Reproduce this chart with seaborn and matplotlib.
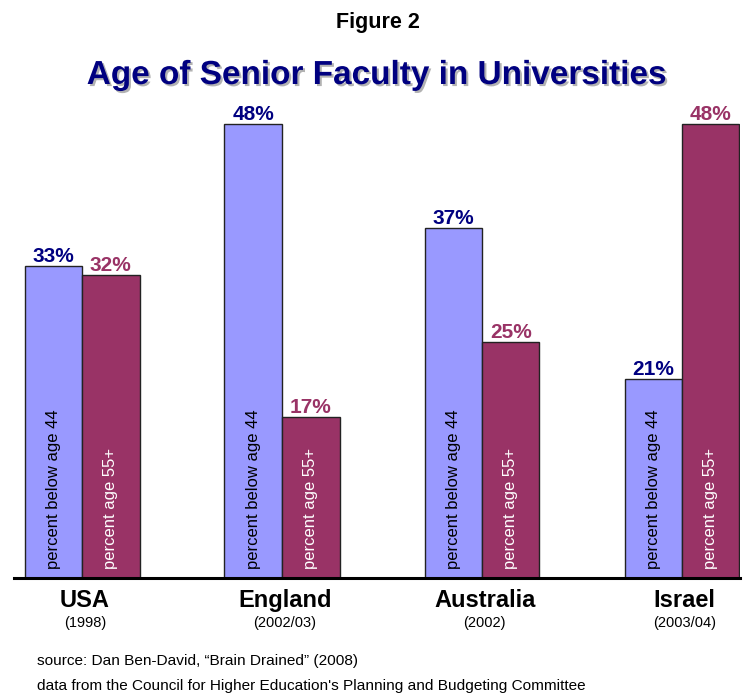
import matplotlib
matplotlib.use("Agg")
import matplotlib.pyplot as plt
import matplotlib.patheffects as pe
import pandas as pd
import seaborn as sns

countries = ["USA", "England", "Australia", "Israel"]
years = ["(1998)", "(2002/03)", "(2002)", "(2003/04)"]
groups = ["percent below age 44", "percent age 55+"]
below_44 = [33, 48, 37, 21]
age_55_plus = [32, 17, 25, 48]

BLUE = "#9999FF"
MAROON = "#993366"
NAVY = "#000080"


def build_frame() -> pd.DataFrame:
    rows = []
    for c, a, b in zip(countries, below_44, age_55_plus):
        rows.append({"country": c, "group": groups[0], "pct": a})
        rows.append({"country": c, "group": groups[1], "pct": b})
    return pd.DataFrame(rows)


def main() -> None:
    sns.set_theme(style="white")
    plt.rcParams["font.family"] = ["Liberation Sans", "DejaVu Sans"]

    df = build_frame()

    fig = plt.figure(figsize=(7.55, 6.95), dpi=100)
    ax = fig.add_axes([14 / 755, 117 / 695, 726 / 755, 473 / 695])

    sns.barplot(data=df, x="country", y="pct", hue="group", hue_order=groups,
                palette=[BLUE, MAROON], width=0.575, saturation=1,
                edgecolor="#222222", linewidth=1, legend=False, ax=ax)

    ax.set_xlim(-0.34, 3.29)
    ax.set_ylim(0, 50)
    ax.set_yticks([])
    ax.set_xlabel("")
    ax.set_ylabel("")
    for side in ["left", "right", "top"]:
        ax.spines[side].set_visible(False)
    ax.spines["bottom"].set_linewidth(2.2)
    ax.spines["bottom"].set_color("black")

    # value labels and in-bar labels
    for cont, col, inner_col, grp in zip(ax.containers, [NAVY, MAROON], ["black", "white"], groups):
        ax.bar_label(cont, fmt="%d%%", color=col, fontsize=15, fontweight="bold", padding=0)
        for patch in cont:
            ax.text(patch.get_x() + patch.get_width() / 2, 1.0, grp, rotation=90,
                    ha="center", va="bottom", color=inner_col, fontsize=12)

    ax.set_xticks(range(len(countries)))
    ax.set_xticklabels([])
    ax.tick_params(axis="x", length=0)
    for i, (name, yr) in enumerate(zip(countries, years)):
        ax.annotate(name, xy=(i, 0), xycoords=("data", "axes fraction"),
                    xytext=(2, -21), textcoords="offset points",
                    ha="center", va="baseline", fontsize=17, fontweight="bold", color="black")
        ax.annotate(yr, xy=(i, 0), xycoords=("data", "axes fraction"),
                    xytext=(2, -35.5), textcoords="offset points",
                    ha="center", va="baseline", fontsize=10.5, color="black")

    fig.text(0.5, 1 - 28 / 695, "Figure 2", ha="center", va="baseline",
             fontsize=15.5, fontweight="bold", color="black")
    fig.text(0.5, 1 - 84 / 695, "Age of Senior Faculty in Universities", ha="center",
             va="baseline", fontsize=24, fontweight="bold", color=NAVY,
             path_effects=[pe.SimplePatchShadow(offset=(1.5, -1.5), shadow_rgbFace="gray", alpha=0.6),
                           pe.Normal()])

    fig.text(37 / 755, 1 - 665 / 695, "source: Dan Ben-David, \u201cBrain Drained\u201d (2008)",
             ha="left", va="baseline", fontsize=11.1, color="black")
    fig.text(37 / 755, 1 - 690 / 695,
             "data from the Council for Higher Education's Planning and Budgeting Committee",
             ha="left", va="baseline", fontsize=11.1, color="black")

    fig.savefig("out.png", dpi=100)
    plt.close(fig)


if __name__ == "__main__":
    main()
